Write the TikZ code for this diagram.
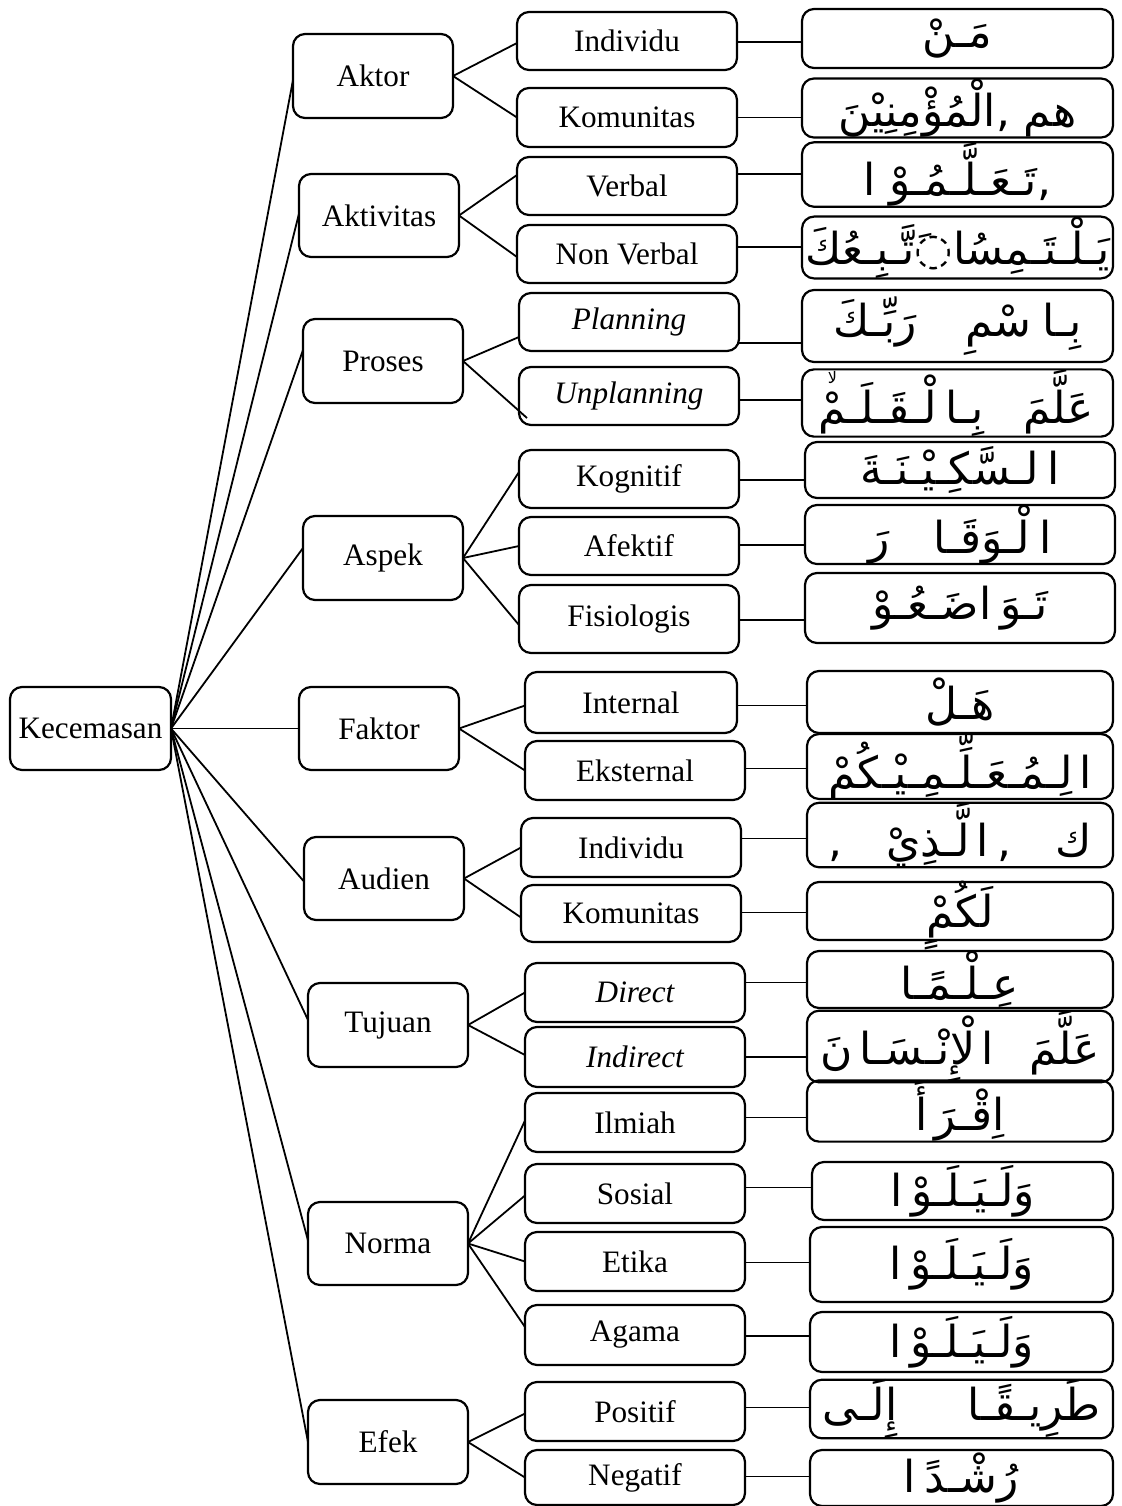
\documentclass[tikz,border=0pt]{standalone}
\usepackage{fontspec}
\setmainfont{Liberation Serif}
\newfontfamily\arabicfont[Script=Arabic]{DejaVu Sans}
\TeXXeTstate=1
\usetikzlibrary{calc}

% box with given corners (in px units): style, name, x1, y1, x2, y2, text
\newcommand\rbox[7]{%
  \node[#1, minimum width={(#5-#3)*0.5pt}, minimum height={(#6-#4)*0.5pt}]
    (#2) at ({(#3+#5)/2},{(#4+#6)/2}) {#7};}
% right-to-left Arabic run
\newcommand\ar[1]{\beginR #1\endR}
% small raised pause sign (lam-alef) over the end of a word
\newcommand\pausesign{\kern-0.42em\raisebox{0.9em}{\fontsize{8}{8}\arabicfont لا}\kern0.15em}
% branch from a parent box to a child box, end shifted by (dx,dy)
\newcommand\fan[3]{\draw[link] (#1.east) -- ($(#2.west)+#3$);}
% horizontal link from a child box to its Arabic box, at offset dy
\newcommand\hlink[3]{\draw[link] ($(#1.east)+(0,#3)$) coordinate (hl) -- (hl -| #2.west);}

\begin{document}
\begin{tikzpicture}[x=0.5pt,y=-0.5pt,
  frame/.style={draw, line width=1.1pt, rounded corners=6pt, inner sep=0pt,
                outer sep=0pt, align=center},
  lat/.style={frame, font=\fontsize{15.6}{18}\selectfont},
  arab/.style={frame, font=\fontsize{22}{26}\arabicfont},
  link/.style={line width=0.9pt}]
\useasboundingbox (0,0) rectangle (1122,1506);

% root
\rbox{lat}{root}{10}{687}{171}{770}{Kecemasan}

% first level
\rbox{lat}{aktor}{293}{34}{453}{118}{Aktor}
\rbox{lat}{aktivitas}{299}{174}{459}{257}{Aktivitas}
\rbox{lat}{proses}{303}{319}{463}{403}{Proses}
\rbox{lat}{aspek}{303}{516}{463}{600}{Aspek}
\rbox{lat}{faktor}{299}{687}{459}{770}{Faktor}
\rbox{lat}{audien}{304}{837}{464}{920}{Audien}
\rbox{lat}{tujuan}{308}{983}{468}{1067}{Tujuan}
\rbox{lat}{norma}{308}{1202}{468}{1285}{Norma}
\rbox{lat}{efek}{308}{1400}{468}{1484}{Efek}

% second level
\rbox{lat}{individuA}{517}{12}{737}{70}{Individu}
\rbox{lat}{komunitasA}{517}{88}{737}{147}{Komunitas}
\rbox{lat}{verbal}{517}{157}{737}{215}{Verbal}
\rbox{lat}{nonverbal}{517}{225}{737}{283}{Non Verbal}
\rbox{lat}{planning}{519}{293}{739}{351}{\itshape Planning}
\rbox{lat}{unplanning}{519}{367}{739}{425}{\itshape Unplanning}
\rbox{lat}{kognitif}{519}{450}{739}{508}{Kognitif}
\rbox{lat}{afektif}{519}{517}{739}{575}{Afektif}
\rbox{lat}{fisiologis}{519}{585}{739}{653}{Fisiologis}
\rbox{lat}{internal}{525}{672}{737}{733}{Internal}
\rbox{lat}{eksternal}{525}{741}{745}{800}{Eksternal}
\rbox{lat}{individuB}{521}{818}{741}{877}{Individu}
\rbox{lat}{komunitasB}{521}{885}{741}{942}{Komunitas}
\rbox{lat}{direct}{525}{963}{745}{1022}{\itshape Direct}
\rbox{lat}{indirect}{525}{1027}{745}{1087}{\itshape Indirect}
\rbox{lat}{ilmiah}{525}{1093}{745}{1152}{Ilmiah}
\rbox{lat}{sosial}{525}{1164}{745}{1223}{Sosial}
\rbox{lat}{etika}{525}{1232}{745}{1291}{Etika}
\rbox{lat}{agama}{525}{1305}{745}{1365}{Agama}
\rbox{lat}{positif}{525}{1382}{745}{1441}{Positif}
\rbox{lat}{negatif}{525}{1450}{745}{1505}{Negatif}

% Arabic column
\rbox{arab}{a1}{802}{9}{1113}{68}{\ar{مَـنْ}}
\rbox{arab}{a2}{802}{79}{1113}{137}{\ar{هم ,الْمُؤْمِنِيْنَ}}
\rbox{arab}{a3}{802}{146}{1113}{203}{\ar{,تَـعَـلَّـمُـوْ\hspace{0.3em}ا}}
\rbox{arab}{a4}{802}{218}{1113}{277}{\ar{يَـلْـتَـمِسُا◌َتَّـبِـعُكَ}}
\rbox{arab}{a5}{802}{290}{1113}{362}{\ar{بِـا\hspace{0.25em}سْمِ\hspace{1.1em}رَبِّـكَ}}
\rbox{arab}{a6}{802}{374}{1113}{432}{\ar{عَلَّمَ\hspace{0.9em}بِـا\hspace{0.2em}لْـقَـلَـمْ\pausesign}}
\rbox{arab}{a7}{805}{442}{1115}{498}{\ar{ا\hspace{0.2em}لـسَّكِـيْـنَـةَ}}
\rbox{arab}{a8}{805}{506}{1115}{563}{\ar{ا\hspace{0.2em}لْـوَقَـا\hspace{1em}رَ}}
\rbox{arab}{a9}{805}{573}{1115}{643}{\ar{تَـوَ\hspace{0.2em}اضَـعُـوْ}}
\rbox{arab}{a10}{807}{671}{1113}{733}{\ar{هَـلْ}}
\rbox{arab}{a11}{807}{740}{1113}{793}{\ar{ا\hspace{0.15em}لِـمُـعَـلِّـمِـيْـكُمْ}}
\rbox{arab}{a12}{807}{807}{1113}{863}{\ar{ك\hspace{1em},\hspace{0.2em}ا\hspace{0.15em}لَّـذِيْ\hspace{1em},}}
\rbox{arab}{a13}{807}{882}{1113}{940}{\raisebox{0pt}[20pt][4pt]{\ar{لَكُمٍْ}}}
\rbox{arab}{a14}{807}{951}{1113}{1008}{\ar{عِـلْـمًـا}}
\rbox{arab}{a15}{807}{1018}{1113}{1075}{\ar{عَلَّمَ\hspace{0.8em}ا\hspace{0.15em}لْإِنْـسَـا\hspace{0.15em}نَ}}
\rbox{arab}{a16}{807}{1082}{1113}{1140}{\ar{اِقْـرَ\hspace{0.15em}أَ}}
\rbox{arab}{a17}{812}{1162}{1113}{1220}{\ar{وَلَـيَـلَـوْ\hspace{0.2em}ا}}
\rbox{arab}{a18}{810}{1227}{1113}{1302}{\ar{وَلَـيَـلَـوْ\hspace{0.2em}ا}}
\rbox{arab}{a19}{810}{1312}{1113}{1372}{\ar{وَلَـيَـلَـوْ\hspace{0.2em}ا}}
\rbox{arab}{a20}{810}{1380}{1113}{1438}{\ar{طَرِيـقًـا\hspace{1.6em}إِلَـى}}
\rbox{arab}{a21}{810}{1450}{1113}{1506}{\ar{رُشْـدً\hspace{0.2em}ا}}

% root to first level
\foreach \t/\dy in {aktor/4, aktivitas/-2, proses/-11, aspek/-10, faktor/0,
                    audien/3, tujuan/-5, norma/-3, efek/0}
  \draw[link] (root.east) -- ($(\t.west)+(0,\dy)$);

% first level to second level
\fan{aktor}{individuA}{(0,2)}
\fan{aktor}{komunitasA}{(0,0)}
\fan{aktivitas}{verbal}{(0,-11)}
\fan{aktivitas}{nonverbal}{(0,3)}
\fan{proses}{planning}{(0,15)}
\fan{proses}{unplanning}{(8,22)}
\fan{aspek}{kognitif}{(0,-7)}
\fan{aspek}{afektif}{(0,0)}
\fan{aspek}{fisiologis}{(0,6)}
\fan{faktor}{internal}{(0,3)}
\fan{faktor}{eksternal}{(0,0)}
\fan{audien}{individuB}{(0,0)}
\fan{audien}{komunitasB}{(0,4)}
\fan{tujuan}{direct}{(0,0)}
\fan{tujuan}{indirect}{(0,-2)}
\fan{norma}{ilmiah}{(0,-2)}
\fan{norma}{sosial}{(0,2)}
\fan{norma}{etika}{(0,0)}
\fan{norma}{agama}{(0,-8)}
\fan{efek}{positif}{(0,2)}
\fan{efek}{negatif}{(0,0)}

% second level to Arabic column
\hlink{individuA}{a1}{1}
\hlink{komunitasA}{a2}{0}
\hlink{verbal}{a3}{-12}
\hlink{nonverbal}{a4}{-7}
\hlink{planning}{a5}{21}
\hlink{unplanning}{a6}{4}
\hlink{kognitif}{a7}{1}
\hlink{afektif}{a8}{-1}
\hlink{fisiologis}{a9}{1}
\hlink{internal}{a10}{3}
\hlink{eksternal}{a11}{-2}
\hlink{individuB}{a12}{-9}
\hlink{komunitasB}{a13}{-1}
\hlink{direct}{a14}{-10}
\hlink{indirect}{a15}{0}
\hlink{ilmiah}{a16}{-5}
\hlink{sosial}{a17}{-6}
\hlink{etika}{a18}{1}
\hlink{agama}{a19}{1}
\hlink{positif}{a20}{-4}
\hlink{negatif}{a21}{-1}
\end{tikzpicture}
\end{document}
